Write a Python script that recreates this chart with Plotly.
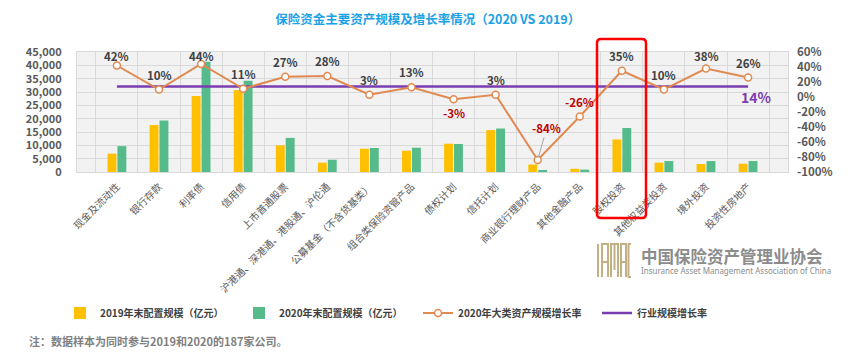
import plotly.graph_objects as go

categories = ["现金及流动性", "银行存款", "利率债", "信用债", "上市普通股票",
              "沪港通、深港通、港股通、沪伦通", "公募基金（不含货基类）", "组合类保险资管产品",
              "债权计划", "信托计划", "商业银行理财产品", "其他金融产品", "股权投资",
              "其他权益类投资", "境外投资", "投资性房地产"]
scale_2019 = [6900, 17600, 28500, 30700, 10000, 3500, 8700, 8000,
              10600, 15700, 2800, 1200, 12200, 3500, 3000, 3100]
scale_2020 = [9700, 19300, 41300, 34200, 12800, 4600, 9000, 9100,
              10500, 16300, 450, 880, 16500, 4100, 4100, 4100]
growth_rate = [42, 10, 44, 11, 27, 28, 3, 13, -3, 3, -84, -26, 35, 10, 38, 26]
industry_rate = 14
left_ticks = list(range(0, 45001, 5000))
right_ticks = [-100, -80, -60, -40, -20, 0, 20, 40, 60]
right_tick_text = [f"{v}%" for v in right_ticks]

FONT = "Noto Sans CJK SC"
W, H = 864, 354
L, R, T, B = 77, 76, 52, 182
PW, PH = W - L - R, H - T - B


def px(x):
    return (x - L) / PW


def py(y):
    return (T + PH - y) / PH


fig = go.Figure()
fig.add_trace(go.Bar(x=categories, y=scale_2019, name="2019年末配置规模（亿元）", legendrank=1,
                     marker=dict(color="#FFC000", line=dict(width=0))))
fig.add_trace(go.Bar(x=categories, y=scale_2020, name="2020年末配置规模（亿元）", legendrank=2,
                     marker=dict(color="#55BB8A", line=dict(width=0))))
fig.add_trace(go.Scatter(x=categories, y=[industry_rate] * len(categories), yaxis="y2",
                         mode="lines", name="行业规模增长率", legendrank=4,
                         line=dict(color="#7A3DB0", width=2.5)))
fig.add_trace(go.Scatter(x=categories, y=growth_rate, yaxis="y2", mode="lines+markers",
                         name="2020年大类资产规模增长率", legendrank=3,
                         line=dict(color="#E08A52", width=2),
                         marker=dict(symbol="circle", size=7, color="white",
                                     line=dict(color="#E08A52", width=1.5))))

annotations = []
for c, r in zip(categories, growth_rate):
    txt = f"{r}%"
    color = "#C00000" if r < 0 else "#404040"
    if r == -84:
        annotations.append(dict(x=c, y=r, xref="x", yref="y2", text=txt, showarrow=True,
                                ax=9, ay=-32, arrowhead=0, arrowwidth=1, arrowcolor="#A6A6A6",
                                standoff=3,
                                font=dict(family=FONT, size=11.5, color=color, weight="bold")))
        continue
    if r == -3:
        shift = -14
    else:
        shift = min(15, (60 - r) / (160 / PH) - 4)
    annotations.append(dict(x=c, y=r, xref="x", yref="y2", text=txt, showarrow=False,
                            yshift=shift,
                            font=dict(family=FONT, size=11.5, color=color, weight="bold")))

annotations.append(dict(x=categories[-1], y=industry_rate, xref="x", yref="y2",
                        text=f"{industry_rate}%", showarrow=False, xshift=8, yshift=-10,
                        font=dict(family=FONT, size=14, color="#7A3DB0", weight="bold")))

annotations.append(dict(x=px(27), y=py(341), xref="paper", yref="paper", xanchor="left",
                        yanchor="middle", showarrow=False,
                        text="注：数据样本为同时参与2019和2020的187家公司。",
                        font=dict(family=FONT, size=11, color="#7F7F7F", weight="bold")))
annotations.append(dict(x=px(639), y=py(256), xref="paper", yref="paper", xanchor="left",
                        yanchor="middle", showarrow=False, text="中国保险资产管理业协会",
                        font=dict(family=FONT, size=16.5, color="#8C8C8C", weight="bold")))
annotations.append(dict(x=px(639), y=py(270), xref="paper", yref="paper", xanchor="left",
                        yanchor="middle", showarrow=False,
                        text="Insurance Asset Management Association of China",
                        font=dict(family="Noto Sans", size=8, color="#8C8C8C")))

shapes = []
# highlight box around the 股权投资 column (rounded corners)
x0, x1, y0, y1 = px(597), px(646), py(218), py(39)
rx, ry = 4 / PW, 4 / PH
path = (f"M{x0+rx},{y1} L{x1-rx},{y1} Q{x1},{y1} {x1},{y1-ry} L{x1},{y0+ry} "
        f"Q{x1},{y0} {x1-rx},{y0} L{x0+rx},{y0} Q{x0},{y0} {x0},{y0+ry} "
        f"L{x0},{y1-ry} Q{x0},{y1} {x0+rx},{y1} Z")
shapes.append(dict(type="path", path=path, xref="paper", yref="paper",
                   line=dict(color="#FF0000", width=2.5), layer="above"))

# logo emblem (stylised IAMAC strokes)
gold = "#C2B084"
top, bot = 244, 277


def P(x, y):
    return f"{px(x)},{py(y)}"


emblem = [
    f"M{P(598, top)} L{P(598, bot)}",
    f"M{P(602, bot)} L{P(602, top)} L{P(608, top)} L{P(608, bot)} M{P(602, 262)} L{P(608, 262)}",
    f"M{P(611, bot)} L{P(611, top)} L{P(618, top)} L{P(618, bot)} M{P(614.5, top)} L{P(614.5, 270)}",
    f"M{P(621, bot)} L{P(621, top)} L{P(626, top)} L{P(626, bot)} M{P(621, 262)} L{P(626, 262)}",
    f"M{P(631, top)} L{P(628.5, top)} L{P(628.5, bot)} L{P(631, bot)}",
]
for p in emblem:
    shapes.append(dict(type="path", path=p, xref="paper", yref="paper",
                       line=dict(color=gold, width=2)))

fig.update_layout(
    width=W, height=H, margin=dict(l=L, r=R, t=T, b=B),
    paper_bgcolor="white", plot_bgcolor="#F2F2F2",
    font=dict(family=FONT, color="#595959"),
    title=dict(text="保险资金主要资产规模及增长率情况（2020 VS 2019）",
               x=0.495, xanchor="center", y=1 - 20 / H, yanchor="middle",
               font=dict(family=FONT, size=12.5, color="#1AA1E6", weight="bold")),
    barmode="group", bargap=0.53, bargroupgap=0.1,
    xaxis=dict(type="category", tickangle=-45, tickson="boundaries", showgrid=True,
               gridcolor="#D9D9D9", gridwidth=1, showline=True, linecolor="#D9D9D9",
               mirror=True, ticks="", ticklabelstandoff=4,
               tickfont=dict(family=FONT, size=10, color="#595959")),
    yaxis=dict(range=[0, 45000], tickvals=left_ticks, tickformat=",", showgrid=True,
               gridcolor="#D9D9D9", gridwidth=1, zeroline=False, showline=True,
               linecolor="#D9D9D9", mirror=True, ticks="", ticklabelstandoff=12,
               tickfont=dict(family=FONT, size=11, color="#595959", weight="bold")),
    yaxis2=dict(range=[-100, 60], overlaying="y", side="right", tickvals=right_ticks,
                ticktext=right_tick_text, showgrid=False, zeroline=False, showline=False,
                ticks="", ticklabelstandoff=8,
                tickfont=dict(family=FONT, size=11.5, color="#595959", weight="bold")),
    legend=dict(orientation="h", x=px(60), y=py(313), xanchor="left", yanchor="middle",
                traceorder="normal", entrywidth=134, entrywidthmode="pixels",
                font=dict(family=FONT, size=10, color="#404040", weight="bold"),
                bgcolor="rgba(0,0,0,0)"),
    annotations=annotations, shapes=shapes, showlegend=True,
)

fig.write_html("out.html")
